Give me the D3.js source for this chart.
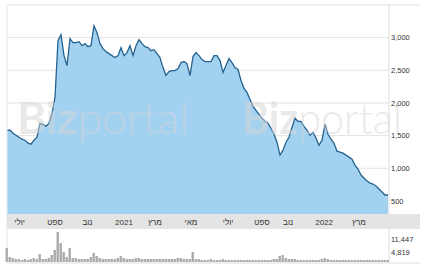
<!DOCTYPE html>
<html>
<head>
<meta charset="utf-8">
<script src="https://cdn.jsdelivr.net/npm/d3@7"></script>
<style>
   body { margin: 0; background: #fff; }
   svg { display: block; font-family: "Liberation Sans", Arial, sans-serif; }
</style>
</head>
<body>
<svg width="433" height="276"></svg>
<script>
// price, one reading every ~3px of the original
var prices = [
   1582, 1582, 1536, 1506, 1475, 1445, 1430, 1384, 1369, 1430,
   1475, 1689, 1673, 1643, 1689, 1841, 2085, 2954, 3045, 2725,
   2573, 2984, 2923, 2923, 2938, 2877, 2908, 2862, 2877, 3182,
   3076, 2908, 2832, 2786, 2756, 2725, 2695, 2725, 2847, 2725,
   2771, 2877, 2725, 2877, 2969, 2908, 2862, 2847, 2801, 2816,
   2756, 2695, 2542, 2420, 2481, 2496, 2496, 2527, 2618, 2634,
   2603, 2420, 2710, 2771, 2725, 2664, 2634, 2634, 2634, 2725,
   2725, 2649, 2466, 2573, 2679, 2618, 2542, 2512, 2344, 2222,
   2161, 2054, 1948, 1887, 1826, 1765, 1719, 1689, 1613, 1521,
   1399, 1201, 1277, 1399, 1475, 1628, 1765, 1719, 1719, 1643,
   1582, 1506, 1552, 1460, 1353, 1430, 1673, 1521, 1445, 1384,
   1262, 1247, 1232, 1201, 1171, 1140, 1049, 988, 896, 851,
   805, 774, 759, 729, 683, 637, 591, 591
];

var volumes = [
   7000, 2500, 2000, 1500, 1500, 1000, 1500, 1000, 1500, 2000,
   1500, 4000, 1500, 1500, 2000, 3500, 6000, 15000, 9500, 5000,
   2500, 7000, 2000, 2000, 1500, 1500, 1500, 1500, 2500, 4500,
   3000, 2000, 1500, 1500, 1500, 1500, 1500, 2000, 3000, 2000,
   1500, 1500, 1500, 2000, 2000, 1500, 1500, 1500, 1500, 1500,
   1500, 1500, 1500, 1500, 1500, 1500, 1500, 2000, 2000, 1500,
   1500, 1500, 5000, 1500, 1500, 1000, 1000, 1000, 1500, 1000,
   1000, 1000, 1500, 1000, 1000, 1000, 1000, 1000, 1000, 1000,
   1000, 1000, 1000, 1000, 1000, 1000, 1000, 1000, 1000, 1500,
   1500, 3000, 3500, 2000, 1500, 1500, 1500, 1000, 1000, 1000,
   1000, 1000, 1000, 1000, 1000, 1500, 2000, 1500, 1000, 1000,
   1000, 1000, 1000, 1000, 1000, 1000, 1000, 1000, 1000, 1000,
   1000, 1000, 1000, 1000, 1000, 1000, 1000, 1000
];

var xTickPos = [4.2, 16, 26.8, 39, 49.3, 61.3, 73.7, 85, 93.7, 105.7, 117.3];
var xTickLabels = ['יולי', 'ספט', 'נוב', '2021', 'מרץ', 'מאי', 'יולי', 'ספט', 'נוב', '2022', 'מרץ'];
var yTicks = [500, 1000, 1500, 2000, 2500, 3000];
var volTicks = [4819, 11447];

var plotLeft = 7, plotRight = 389, plotTop = 5, plotBottom = 214;
var volTop = 229, volBottom = 262;

var svg = d3.select('svg');

var x = d3.scaleLinear().domain([0, prices.length - 1]).range([plotLeft, plotRight - 1]);
var y = d3.scaleLinear().domain([300, 3500]).range([plotBottom, plotTop]);
var yv = d3.scaleLinear().domain([0, 16500]).range([volBottom, volTop]);

// grid
svg.append('g').selectAll('line')
   .data(yTicks)
   .enter()
   .append('line')
   .attr('x1', plotLeft).attr('x2', plotRight)
   .attr('y1', function(d){ return y(d); })
   .attr('y2', function(d){ return y(d); })
   .attr('stroke', '#e3e3e3');

// price area + line
var area = d3.area()
   .x(function(d, i){ return x(i); })
   .y0(plotBottom)
   .y1(function(d){ return y(d); });
var line = d3.line()
   .x(function(d, i){ return x(i); })
   .y(function(d){ return y(d); });

svg.append('path')
   .attr('d', area(prices))
   .attr('fill', '#a3d2f1');
svg.append('path')
   .attr('d', line(prices))
   .attr('fill', 'none')
   .attr('stroke', '#24628f')
   .attr('stroke-width', 1.3);

// watermark
function watermark(x0, len) {
   var t = svg.append('text')
      .attr('x', x0).attr('y', 134)
      .attr('font-family', 'Lato, "Liberation Sans", sans-serif')
      .attr('font-size', 44)
      .attr('fill', '#d4d4d4')
      .attr('fill-opacity', 0.5);
   t.append('tspan').attr('font-weight', 'bold').text('Biz');
   t.append('tspan').attr('font-weight', 300).text('portal');
   t.attr('textLength', len).attr('lengthAdjust', 'spacingAndGlyphs');
}
watermark(17, 172);
watermark(242, 160);

// borders
svg.append('line').attr('x1', plotLeft).attr('x2', 420).attr('y1', plotTop).attr('y2', plotTop).attr('stroke', '#ddd');
svg.append('line').attr('x1', plotLeft).attr('x2', plotLeft).attr('y1', plotTop).attr('y2', volBottom).attr('stroke', '#e6e6e6');
svg.append('line').attr('x1', plotRight).attr('x2', plotRight).attr('y1', plotTop).attr('y2', volBottom).attr('stroke', '#ddd');

// right price labels
svg.append('g').selectAll('text')
   .data(yTicks)
   .enter()
   .append('text')
   .attr('x', plotRight + 2)
   .attr('y', function(d){ return y(d); })
   .attr('dy', '0.35em')
   .attr('font-size', 7.5)
   .attr('fill', '#333')
   .text(function(d){ return d3.format(',')(d); });

// date band
svg.append('rect')
   .attr('x', plotLeft).attr('y', plotBottom)
   .attr('width', 420 - plotLeft).attr('height', volTop - plotBottom)
   .attr('fill', '#e4e4e4');

svg.append('g').selectAll('text')
   .data(xTickPos)
   .enter()
   .append('text')
   .attr('x', function(d){ return x(d); })
   .attr('y', 222)
   .attr('dy', '0.35em')
   .attr('text-anchor', 'middle')
   .attr('font-size', 8)
   .attr('fill', '#333')
   .text(function(d, i){ return xTickLabels[i]; });

// volume
var bw = (plotRight - plotLeft) / prices.length;
svg.append('g').selectAll('rect')
   .data(volumes)
   .enter()
   .append('rect')
   .attr('x', function(d, i){ return x(i) - bw / 2; })
   .attr('y', function(d){ return yv(d); })
   .attr('width', bw - 0.6)
   .attr('height', function(d){ return volBottom - yv(d); })
   .attr('fill', '#aaa');

svg.append('line').attr('x1', plotLeft).attr('x2', 420).attr('y1', volBottom + 1).attr('y2', volBottom + 1).attr('stroke', '#ddd');

svg.append('g').selectAll('text')
   .data(volTicks)
   .enter()
   .append('text')
   .attr('x', plotRight + 2)
   .attr('y', function(d){ return yv(d); })
   .attr('dy', '0.35em')
   .attr('font-size', 7.5)
   .attr('fill', '#333')
   .text(function(d){ return d3.format(',')(d); });
</script>
</body>
</html>
